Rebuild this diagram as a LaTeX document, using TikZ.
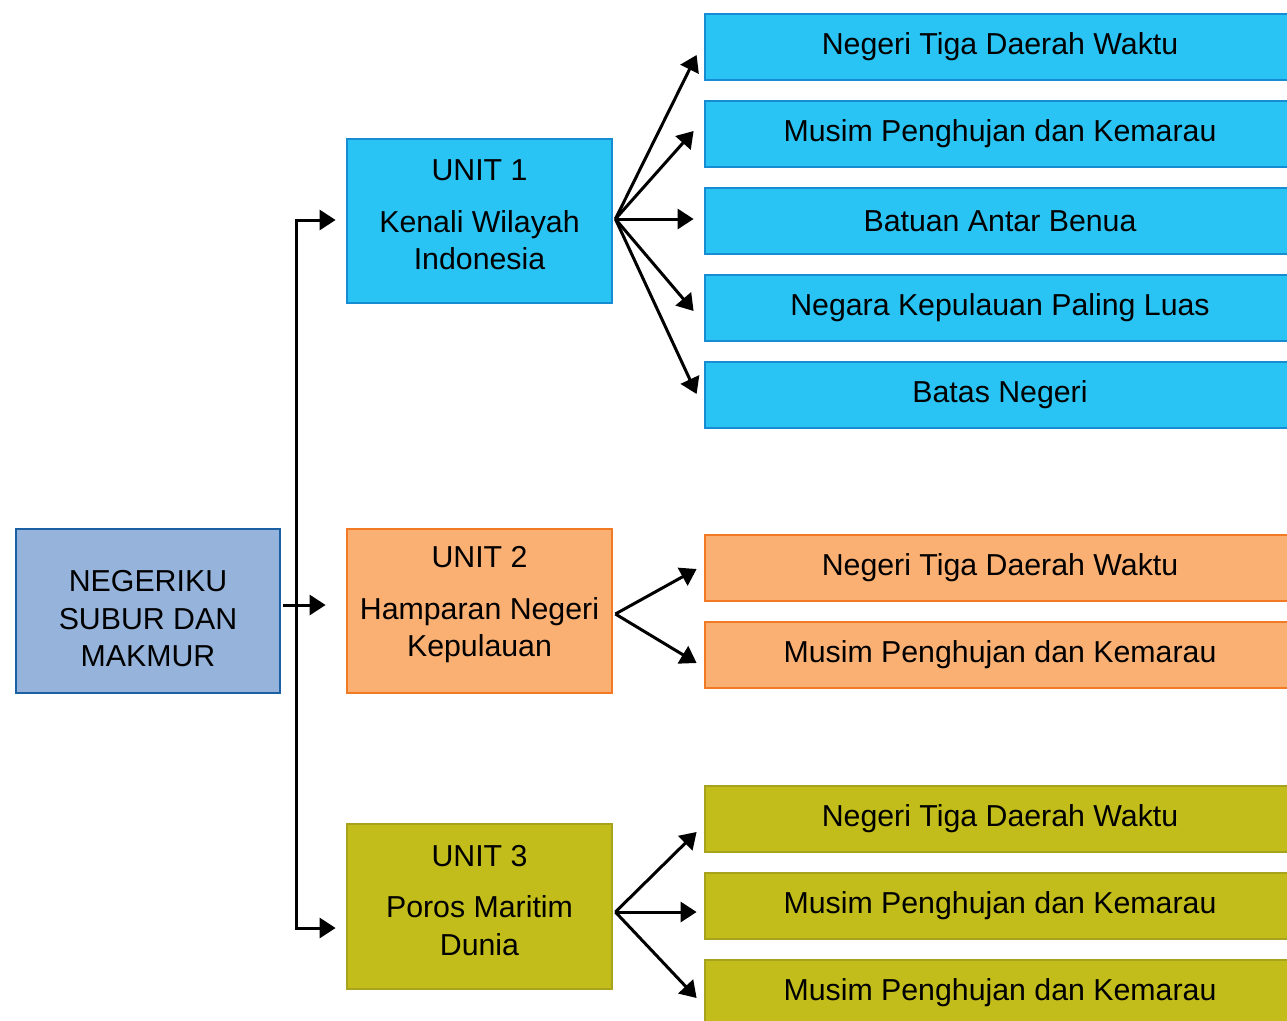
\documentclass[tikz,border=0pt]{standalone}
\usepackage{fontspec}
\setmainfont{Liberation Sans}
\usetikzlibrary{arrows.meta,calc}
\definecolor{rootfill}{RGB}{149,179,219}
\definecolor{rootdraw}{RGB}{28,96,164}
\definecolor{bluefill}{RGB}{41,196,244}
\definecolor{bluedraw}{RGB}{22,140,210}
\definecolor{orfill}{RGB}{250,175,115}
\definecolor{ordraw}{RGB}{242,122,36}
\definecolor{olfill}{RGB}{194,189,26}
\definecolor{oldraw}{RGB}{168,163,28}
\tikzset{
  box/.style={draw, line width=2.8pt, minimum width=265pt, minimum height=164pt, inner sep=0pt},
  topic/.style={draw, line width=2.8pt, minimum width=590pt, minimum height=66pt, inner sep=0pt,
     font=\fontsize{30.3}{36}\selectfont},
  txt/.style={align=center, font=\fontsize{30.3}{37.5}\selectfont, inner sep=0pt},
  arr/.style={line width=3pt, -{Triangle[length=16pt,width=20pt]}},
}
\begin{document}
\begin{tikzpicture}[x=1pt,y=-1pt]
\useasboundingbox (0,0) rectangle (1287,1020);
\clip (0,0) rectangle (1287,1020);
\fill[white] (0,0) rectangle (1287,1020);
% root
\node[box, fill=rootfill, draw=rootdraw, minimum width=264pt] (root) at (148,611) {};
\node[txt] (roott) at (148,619) {NEGERIKU\\SUBUR DAN\\MAKMUR};
% units
\node[box, fill=bluefill, draw=bluedraw] (u1) at (479.5,221) {};
\node[txt] (u1t) at (479.5,215) {UNIT 1\\[14pt]Kenali Wilayah\\Indonesia};
\node[box, fill=orfill, draw=ordraw] (u2) at (479.5,611) {};
\node[txt] (u2t) at (479.5,605) {UNIT 2\\[14pt]Hamparan Negeri\\Kepulauan};
\node[box, fill=olfill, draw=oldraw, minimum height=165pt] (u3) at (479.5,906.5) {};
\node[txt] (u3t) at (479.5,900.5) {UNIT 3\\[14pt]Poros Maritim\\Dunia};
% topics unit 1
\node[topic, fill=bluefill, draw=bluedraw] (a1) at (1000,47) {Negeri Tiga Daerah Waktu};
\node[topic, fill=bluefill, draw=bluedraw] (a2) at (1000,134) {Musim Penghujan dan Kemarau};
\node[topic, fill=bluefill, draw=bluedraw] (a3) at (1000,221) {Batuan Antar Benua};
\node[topic, fill=bluefill, draw=bluedraw] (a4) at (1000,308) {Negara Kepulauan Paling Luas};
\node[topic, fill=bluefill, draw=bluedraw] (a5) at (1000,395) {Batas Negeri};
% topics unit 2
\node[topic, fill=orfill, draw=ordraw] (b1) at (1000,568) {Negeri Tiga Daerah Waktu};
\node[topic, fill=orfill, draw=ordraw] (b2) at (1000,655) {Musim Penghujan dan Kemarau};
% topics unit 3
\node[topic, fill=olfill, draw=oldraw] (c1) at (1000,819) {Negeri Tiga Daerah Waktu};
\node[topic, fill=olfill, draw=oldraw] (c2) at (1000,906) {Musim Penghujan dan Kemarau};
\node[topic, fill=olfill, draw=oldraw] (c3) at (1000,993) {Musim Penghujan dan Kemarau};
% tree connectors
\coordinate (bus) at (296,605);
\draw[arr] ($(root.east)+(2,-6)$) -- ($(u2.west)+(-20,-6)$);
\draw[arr] (bus) |- ($(u1.west)+(-10,-1)$);
\draw[arr] (bus) |- ($(u3.west)+(-10,21.5)$);
% fans
\coordinate (f1) at ($(u1.east)+(2,-2)$);
\draw[arr] (f1) -- ($(a1.west)+(-7,8)$);
\draw[arr] (f1) -- ($(a2.west)+(-10,-3)$);
\draw[arr] (f1) -- ($(a3.west)+(-10,-2)$);
\draw[arr] (f1) -- ($(a4.west)+(-10,3)$);
\draw[arr] (f1) -- ($(a5.west)+(-7,-1)$);
\coordinate (f2) at ($(u2.east)+(2,3)$);
\draw[arr] (f2) -- ($(b1.west)+(-7,1)$);
\draw[arr] (f2) -- ($(b2.west)+(-7,8)$);
\coordinate (f3) at ($(u3.east)+(2,5.5)$);
\draw[arr] (f3) -- ($(c1.west)+(-7,13)$);
\draw[arr] (f3) -- ($(c2.west)+(-7,6)$);
\draw[arr] (f3) -- ($(c3.west)+(-7,5)$);
\end{tikzpicture}
\end{document}
